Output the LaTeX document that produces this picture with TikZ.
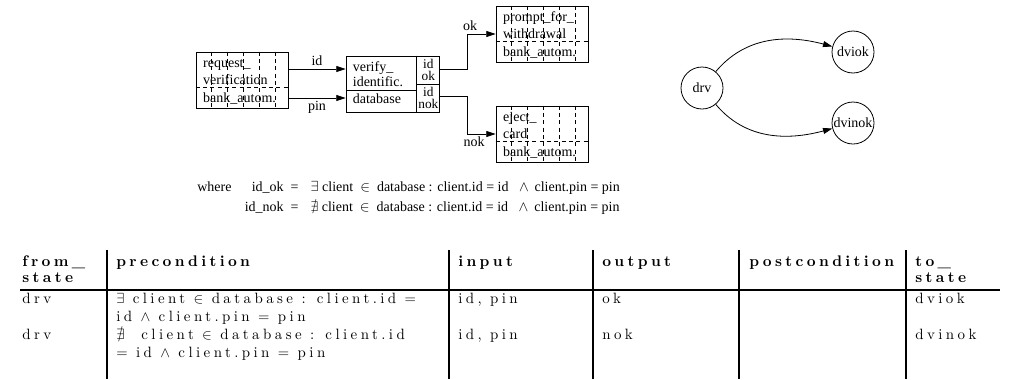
\documentclass[tikz,border=0pt]{standalone}
\usepackage{amssymb}
\usepackage{amsmath}
\usepackage{fontspec}
\usetikzlibrary{positioning,calc,arrows.meta}
\newfontfamily\diafont{Liberation Serif}
\newfontfamily\tabfamily[LetterSpace=23]{lmroman10-regular.otf}
\newfontfamily\tabheadfamily[LetterSpace=22]{lmroman10-bold.otf}
\newcommand\tabfont{\tabfamily\fontsize{11.2}{13}\selectfont}
\newcommand\tabheadfont{\tabheadfamily\fontsize{11.5}{13}\selectfont}

\tikzset{
  autbox/.style={draw, line width=0.6pt, minimum width=69pt, minimum height=42pt, inner sep=0pt},
  griddash/.style={line width=0.5pt, dash pattern=on 3pt off 2.5pt},
  boxtext/.style={anchor=base west, inner sep=0pt, font=\diafont\fontsize{10.5}{12}\selectfont},
  lbl/.style={inner sep=2pt, font=\diafont\fontsize{10.5}{12}\selectfont},
  flow/.style={line width=0.6pt, -{Triangle[length=7pt,width=4.5pt]}},
  statenode/.style={draw, circle, line width=0.6pt, minimum size=31.5pt, inner sep=0pt, font=\diafont\fontsize{10.5}{12}\selectfont},
  portnode/.style={inner sep=0pt, align=center, font=\diafont\fontsize{10}{9}\selectfont},
  tabhead/.style={anchor=base west, inner sep=0pt, font=\tabheadfont},
  tabcell/.style={anchor=base west, inner sep=0pt, font=\tabfont},
  tabrule/.style={line width=1.6pt}
}

% automaton box: name, centre, two upper lines, lower line
\newcommand\autbank[5]{
  \node[autbox] (#1) at (#2) {};
  \draw[griddash] ([yshift=-27pt]#1.north west) -- ([yshift=-27pt]#1.north east);
  \foreach \k in {1,...,5}
    \draw[griddash] ([xshift=\k*12pt]#1.north west) -- ([xshift=\k*12pt]#1.south west);
  \node[boxtext] (#1-a) at ([xshift=5.5pt,yshift=-12pt]#1.north west) {#3};
  \node[boxtext] (#1-b) at ([xshift=5.5pt,yshift=-24.5pt]#1.north west) {#4};
  \node[boxtext] (#1-c) at ([xshift=5.5pt,yshift=-38pt]#1.north west) {#5};
}

\begin{document}
\begin{tikzpicture}[x=0.75pt, y=-0.75pt]
  \useasboundingbox (0,0) rectangle (1017,379);

  % automata
  \autbank{req}{242,80}{request\_}{verification}{bank\_autom.}
  \autbank{prompt}{542,34}{prompt\_for\_}{withdrawal}{bank\_autom.}
  \autbank{eject}{542,134}{eject\_}{card}{bank\_autom.}

  % verify block
  \node[draw, line width=0.6pt, minimum width=69.75pt, minimum height=42pt, inner sep=0pt] (ver) at (392.5,84) {};
  \draw[line width=0.6pt] ([xshift=53.25pt]ver.north west) -- ([xshift=53.25pt]ver.south west);
  \draw[line width=0.6pt] ([yshift=-26.25pt]ver.north west) -- ([xshift=53.25pt,yshift=-26.25pt]ver.north west);
  \draw[line width=0.6pt] ([xshift=53.25pt]ver.west) -- (ver.east);
  \node[boxtext] (ver-a) at ([xshift=5.25pt,yshift=-11.75pt]ver.north west) {verify\_};
  \node[boxtext] (ver-b) at ([xshift=5.25pt,yshift=-23.5pt]ver.north west) {identific.};
  \node[boxtext] (ver-c) at ([xshift=5.25pt,yshift=-36pt]ver.north west) {database};
  \node[portnode] (ver-ok) at ([xshift=-8.25pt,yshift=10.5pt]ver.east) {id\\ok};
  \node[portnode] (ver-nok) at ([xshift=-8.25pt,yshift=-10.5pt]ver.east) {id\\nok};

  % connections
  \coordinate (idout) at ([yshift=8.25pt]req.east);
  \coordinate (pinout) at ([yshift=-13.5pt]req.east);
  \draw[flow] (idout) -- (idout -| ver.west) node[lbl, midway, above] (lid) {id};
  \draw[flow] (pinout) -- (pinout -| ver.west) node[lbl, midway, below] (lpin) {pin};
  \coordinate (okout) at ([yshift=10.8pt]ver.east);
  \coordinate (nokout) at ([yshift=-9.5pt]ver.east);
  \draw[flow] (okout) -- ++(21pt,0) |- (prompt.west) node[lbl, pos=0.5, above, xshift=2pt] (lok) {ok};
  \draw[flow] (nokout) -- ++(21pt,0) |- (eject.west) node[lbl, pos=0.5, below, xshift=5pt] (lnok) {nok};

  % states
  \node[statenode] (drv) at (702,88) {drv};
  \node[statenode] (dviok) at (853,52) {dviok};
  \node[statenode] (dvinok) at (853,123) {dvinok};
  \draw[flow] (drv) to[out=50, in=165] (dviok);
  \draw[flow] (drv) to[out=-50, in=-165] (dvinok);

  % definitions
  \node[anchor=base west, inner sep=0pt, font=\diafont\fontsize{10.5}{12}\selectfont] (where) at (197,191) {%
    \begin{tabular}[t]{@{}l@{\hspace{10pt}}r@{\hspace{9pt}}l@{}}
      where & id\_ok\ \ = & $\exists$ client \ $\in$ \ database : client.id = id \ \ $\wedge$ \,client.pin = pin\\[3.5pt]
            & id\_nok\ \ = & $\nexists$ client \ $\in$ \ database : client.id = id \ \ $\wedge$ \,client.pin = pin
    \end{tabular}};

  % transition table
  \foreach \cx in {107,449,593,739,906}
    \draw[tabrule] (\cx,250) -- (\cx,379);
  \draw[tabrule] (20,290) -- (1000,290);

  \node[tabhead] (h-from) at (22,266) {from\_};
  \node[tabhead] (h-from2) at (22,282) {state};
  \node[tabhead] (h-pre) at (116,266) {precondition};
  \node[tabhead] (h-in) at (458,266) {input};
  \node[tabhead] (h-out) at (602,266) {output};
  \node[tabhead] (h-post) at (749,266) {postcondition};
  \node[tabhead] (h-to) at (915,266) {to\_};
  \node[tabhead] (h-to2) at (915,282) {state};

  \node[tabcell] (r1-from) at (22,303) {drv};
  \node[tabcell] (r1-pre) at (116,303) {$\exists$ client $\in$ database : client.id $=$};
  \node[tabcell] (r1-pre2) at (116,321) {id $\wedge$ client.pin $=$ pin};
  \node[tabcell] (r1-in) at (458,303) {id, pin};
  \node[tabcell] (r1-out) at (602,303) {ok};
  \node[tabcell] (r1-to) at (915,303) {dviok};

  \node[tabcell] (r2-from) at (22,339) {drv};
  \node[tabcell] (r2-pre) at (116,339) {$\nexists$ \ client $\in$ database : client.id};
  \node[tabcell] (r2-pre2) at (116,357) {$=$ id $\wedge$ client.pin $=$ pin};
  \node[tabcell] (r2-in) at (458,339) {id, pin};
  \node[tabcell] (r2-out) at (602,339) {nok};
  \node[tabcell] (r2-to) at (915,339) {dvinok};
\end{tikzpicture}
\end{document}
